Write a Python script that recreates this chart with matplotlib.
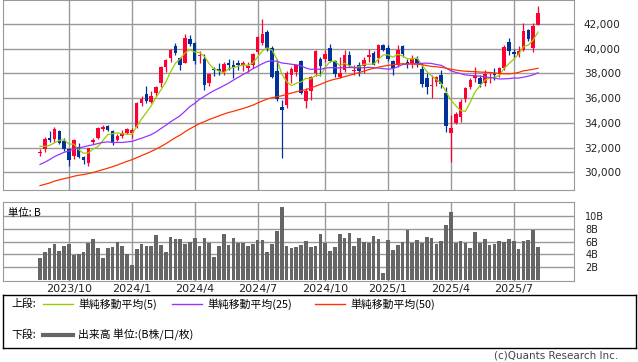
import numpy as np
import pandas as pd
import matplotlib
matplotlib.use("Agg")
import matplotlib.pyplot as plt

plt.rcParams['font.family'] = ['DejaVu Sans', 'Noto Sans CJK JP']

# weekly candles, first week ending 2023-08-25
weeks = pd.date_range("2023-08-25", periods=104, freq="W-FRI")

opens = [31580, 31880, 32800, 32700, 33340, 32550, 31900, 31310, 32070, 31250,
         30750, 32440, 32790, 33500, 33770, 33340, 32610, 32950, 33150, 33200,
         33690, 35600, 36330, 35710, 36390, 37250, 38490, 39220, 40220, 39220,
         38870, 40760, 40430, 39410, 39140, 37200, 38330, 38330, 38140, 38820,
         38700, 38820, 38700, 38410, 38680, 39760, 40460, 41380, 40030, 38190,
         35300, 35440, 37870, 38140, 39000, 35790, 36570, 38010, 39140, 39140,
         40030, 39000, 37730, 38270, 39500, 38200, 38680, 38600, 39350, 39630,
         39220, 40300, 40030, 39030, 38680, 40190, 38950, 38820, 39200, 38330,
         37600, 36950, 37330, 37870, 36440, 33150, 34000, 34500, 35900, 36870,
         37600, 37600, 37200, 37600, 37950, 37950, 38410, 40570, 39760, 39450,
         39900, 41510, 40050, 41950]
highs = [31850, 32845, 33320, 33630, 33450, 32800, 32000, 32700, 32400, 31350,
         32000, 32780, 33700, 33850, 33850, 33400, 33100, 33400, 33580, 33570,
         35700, 36200, 36980, 36600, 37000, 38600, 39160, 40000, 40470, 39300,
         41170, 41100, 40500, 39800, 39600, 38000, 38500, 38800, 38900, 39200,
         39100, 39100, 39000, 38900, 39650, 41000, 42426, 41500, 40200, 39200,
         35880, 38200, 38500, 38700, 39050, 36800, 37800, 39900, 39300, 39900,
         40360, 39100, 39300, 39880, 39800, 38700, 38900, 39300, 40000, 39800,
         40400, 40400, 40300, 39100, 40300, 40300, 39200, 39500, 39400, 38800,
         38000, 37870, 37800, 38270, 36900, 34650, 34900, 35900, 36900, 37600,
         38540, 37900, 38300, 38000, 38400, 38500, 40300, 40890, 40000, 40200,
         42100, 41600, 42050, 43450]
lows = [31280, 31650, 32470, 32450, 32300, 31700, 30487, 31100, 31150, 30640,
        30530, 32250, 32700, 33300, 33300, 32200, 32500, 32800, 33100, 32800,
        33600, 35400, 35600, 35600, 36200, 36900, 38100, 38900, 39500, 38270,
        38800, 40200, 38770, 38800, 36660, 37000, 37800, 37900, 37900, 38300,
        37620, 38300, 38200, 38100, 38400, 39600, 40300, 39800, 37600, 35800,
        31156, 35200, 37250, 37800, 36300, 35200, 35840, 37800, 37800, 38900,
        38900, 37700, 37600, 38100, 38500, 37900, 37800, 38000, 38900, 38700,
        38800, 39800, 39000, 37900, 38500, 39300, 38400, 38400, 38500, 36900,
        36300, 35990, 37000, 36800, 33280, 30792, 33900, 34090, 35700, 36700,
        37300, 36900, 37000, 37200, 37500, 37700, 38300, 39500, 39300, 39300,
        39800, 40600, 39760, 41900]
closes = [31624, 32710, 32606, 33533, 32402, 31858, 30995, 32600, 31259, 30991,
          31950, 32600, 33585, 33625, 33431, 32340, 32970, 33169, 33464, 33377,
          35577, 35963, 35751, 36158, 36897, 38487, 39098, 39910, 39688, 38707,
          40888, 40369, 38992, 39523, 37068, 37934, 38236, 38229, 38787, 38646,
          38487, 38683, 38814, 38596, 39583, 40912, 41190, 40063, 37667, 35909,
          35025, 38062, 38364, 38647, 36391, 36581, 37723, 39829, 38635, 39605,
          38981, 37913, 38053, 39500, 38642, 38283, 38208, 39091, 39470, 38701,
          40281, 39894, 39190, 38451, 39931, 39572, 38787, 39149, 38776, 37155,
          36887, 37053, 37677, 37120, 33780, 33586, 34730, 35705, 36831, 37503,
          37753, 37160, 37965, 37742, 37834, 38403, 40150, 39811, 39570, 39819,
          41456, 40800, 41820, 42850]
# closes of the 49 weeks before the first candle, needed for the moving averages
prior_closes = [27567, 27153, 25937, 27116, 27090, 26891, 27105, 27199, 28263, 27899,
                28283, 27777, 27901, 27527, 26235, 26094, 25973, 26119, 26553, 27382,
                27509, 27670, 27513, 27453, 27927, 28143, 27333, 27385, 28041, 27518,
                28493, 28564, 28856, 29157, 29388, 30808, 30916, 31524, 32265, 33706,
                32782, 33189, 32388, 32391, 32304, 32759, 32193, 32474, 31450]
# volume, billions
volume = [3.44, 4.34, 4.97, 5.6, 4.5, 5.3, 5.6, 3.97, 4.05, 4.34,
          5.76, 6.4, 4.97, 3.44, 4.97, 5.1, 5.9, 5.3, 4.0, 2.37,
          4.8, 5.6, 5.3, 5.3, 7.0, 5.4, 4.34, 6.7, 6.4, 6.4,
          5.6, 5.9, 6.5, 5.3, 6.5, 5.76, 3.55, 5.3, 7.2, 5.4,
          6.5, 5.76, 5.76, 5.3, 5.6, 6.2, 6.2, 4.34, 5.6, 7.66,
          11.45, 5.3, 4.97, 5.1, 5.45, 6.08, 5.1, 5.3, 7.18, 5.76,
          4.5, 5.1, 7.18, 6.5, 7.3, 5.3, 6.5, 5.9, 5.76, 6.86,
          6.4, 1.03, 6.2, 4.66, 5.45, 5.9, 7.8, 5.76, 6.2, 5.76,
          6.7, 6.5, 5.6, 6.08, 8.6, 10.66, 5.76, 6.08, 5.76, 4.97,
          7.5, 5.76, 6.4, 5.45, 5.6, 6.08, 5.9, 6.4, 6.08, 4.8,
          6.08, 6.2, 7.8, 5.1]

ma_periods = [5, 25, 50]
ma_colors = ['#99cc00', '#9933ff', '#ff3300']

n = len(closes)
x = np.arange(n)
o = np.array(opens)
h = np.array(highs)
l = np.array(lows)
c = np.array(closes)

all_closes = pd.Series(prior_closes + closes)
mas = [all_closes.rolling(p).mean().to_numpy()[-n:] for p in ma_periods]

# quarter ticks: first week whose Monday falls in Jan/Apr/Jul/Oct
mondays = weeks - pd.Timedelta(days=4)
tick_idx = [i for i, d in enumerate(mondays) if d.month in (1, 4, 7, 10) and d.day <= 7]
tick_lab = [f"{weeks[i].year}/{weeks[i].month}" for i in tick_idx]

W, H = 638, 362
fig = plt.figure(figsize=(W / 100, H / 100), dpi=100)
ax = fig.add_axes([3 / W, 1 - 190 / H, 571 / W, 190 / H])
axv = fig.add_axes([3 / W, 1 - 281 / H, 571 / W, 79 / H])

grid_c = '#999999'
xl = (-7.65, 110.45)

# candles
up = c >= o
col = np.where(up, '#ff0033', '#003399')
ax.vlines(x, l, h, colors=col, lw=0.9, zorder=3)
body = np.maximum(np.abs(c - o), 35)
ax.bar(x, body, bottom=np.minimum(o, c), width=0.74, color=col, zorder=4, linewidth=0)

for m, cc in zip(mas, ma_colors):
    ax.plot(x, m, color=cc, lw=0.9, zorder=5)

ax.set_xlim(*xl)
ax.set_ylim(28560, 43940)
ax.set_yticks(np.arange(30000, 42001, 2000))
ax.set_yticklabels([f"{v:,}" for v in range(30000, 42001, 2000)])
ax.set_xticks(tick_idx)
ax.set_xticklabels([])
ax.yaxis.tick_right()
ax.tick_params(axis='both', length=0)
ax.tick_params(axis='y', labelsize=7.6, pad=7, labelcolor='#222222')
ax.grid(True, color=grid_c, lw=1)
ax.set_axisbelow(True)
for s in ax.spines.values():
    s.set_color(grid_c)

# volume
axv.bar(x, volume, width=0.76, color='#666666', linewidth=0, zorder=3)
axv.set_xlim(*xl)
axv.set_ylim(-0.2, 12.25)
axv.set_yticks([2, 4, 6, 8, 10])
axv.set_yticklabels(['2B', '4B', '6B', '8B', '10B'])
axv.set_xticks(tick_idx)
axv.set_xticklabels(tick_lab)
axv.yaxis.tick_right()
axv.tick_params(axis='both', length=0, labelcolor='#222222')
axv.tick_params(axis='y', labelsize=7, pad=8)
axv.tick_params(axis='x', labelsize=8, pad=2)
axv.grid(True, color=grid_c, lw=1)
axv.set_axisbelow(True)
for s in axv.spines.values():
    s.set_color(grid_c)
axv.text(0.008, 0.93, '単位: B', transform=axv.transAxes, fontsize=7.5,
         va='top', ha='left', family=['Noto Sans CJK JP', 'DejaVu Sans'])

# legend box
axl = fig.add_axes([3 / W, 1 - 348 / H, 633 / W, 53 / H])
axl.set_xlim(3, 636)
axl.set_ylim(348, 295)
axl.set_xticks([])
axl.set_yticks([])
for s in axl.spines.values():
    s.set_color('black')
    s.set_linewidth(1)
jp = ['Noto Sans CJK JP', 'DejaVu Sans']
axl.text(11, 304, '上段:', fontsize=7.8, va='center', family=jp)
axl.text(11, 335, '下段:', fontsize=7.8, va='center', family=jp)
leg_x = [43, 172, 315]
for lx, p, cc in zip(leg_x, ma_periods, ma_colors):
    axl.plot([lx, lx + 30], [304, 304], color=cc, lw=1)
    axl.text(lx + 35, 304, f'単純移動平均({p})', fontsize=7.8, va='center', family=jp)
axl.plot([43, 73], [335, 335], color='#666666', lw=3)
axl.text(78, 335, '出来高 単位:(B株/口/枚)', fontsize=7.8, va='center', family=jp)

fig.text(618 / W, 1 - 356 / H, '(c)Quants Research Inc.', fontsize=7.5,
         ha='right', va='center', color='#444444')

fig.savefig('out.png', dpi=100)
